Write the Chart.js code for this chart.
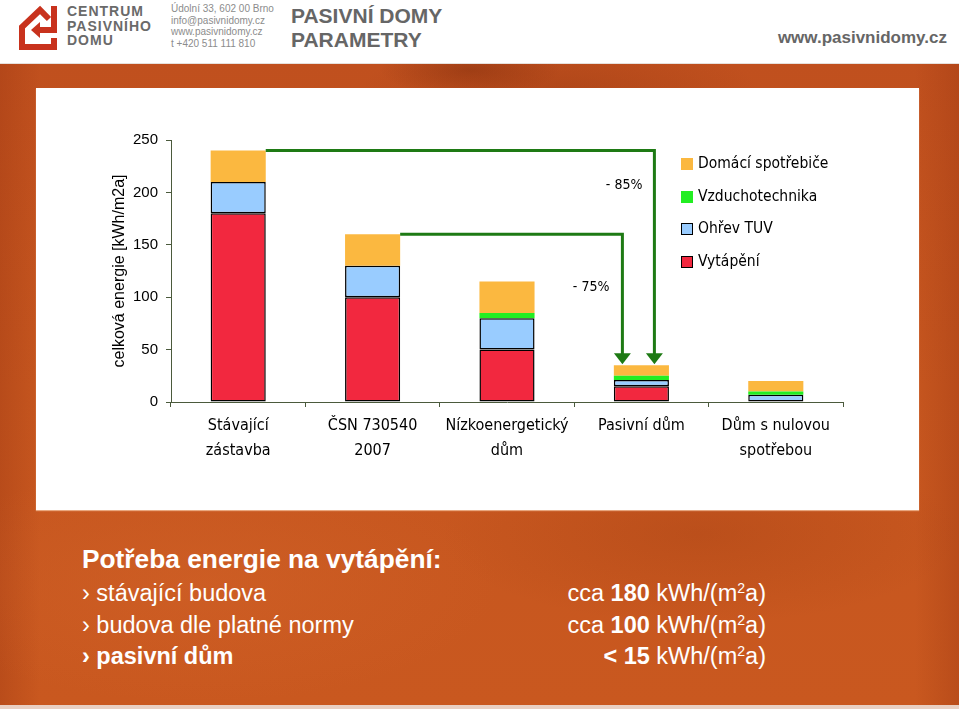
<!DOCTYPE html>
<html><head><meta charset="utf-8">
<script src="https://cdn.jsdelivr.net/npm/chart.js@4.4.1/dist/chart.umd.min.js"></script>
<style>
html,body{margin:0;padding:0;}
body{width:959px;height:709px;position:relative;overflow:hidden;background:#fff;font-family:"Liberation Sans",Arial,sans-serif;}
#header{position:absolute;left:0;top:0;width:959px;height:63px;background:#fff;border-bottom:1px solid #e6e0dc;}
#bg{position:absolute;left:0;top:64px;width:959px;height:645px;
 background:
  radial-gradient(ellipse 90px 26px at 470px 6px, rgba(120,40,10,0.4), rgba(120,40,10,0) 100%),
  radial-gradient(ellipse 200px 50px at 560px 26px, rgba(140,50,15,0.3), rgba(140,50,15,0) 100%),
  radial-gradient(ellipse 260px 90px at 700px 470px, rgba(150,55,15,0.25), rgba(150,55,15,0) 100%),
  radial-gradient(ellipse 300px 120px at 200px 520px, rgba(220,110,50,0.25), rgba(220,110,50,0) 100%),
  linear-gradient(90deg, rgba(150,50,15,0.3) 0px, rgba(150,50,15,0) 40px, rgba(150,50,15,0) 915px, rgba(150,50,15,0.3) 959px),
  linear-gradient(180deg, #C0501E 0%, #C6561F 50%, #C9581F 100%);}
#strip{position:absolute;left:0;top:705px;width:959px;height:4px;background:#e9cfc2;}
#panel{position:absolute;left:36px;top:88px;width:883px;height:422px;background:#fff;box-shadow:0 1px 1px rgba(255,220,190,0.6);}
#chart{position:absolute;left:0;top:0;}
.logo{position:absolute;left:16px;top:3px;}
.brand{position:absolute;left:67px;top:4px;font-weight:bold;font-size:14px;line-height:14.5px;color:#6a6a6a;letter-spacing:1px;}
.addr{position:absolute;left:171px;top:3px;font-size:10px;line-height:11.7px;color:#8c8c8c;}
.title{position:absolute;left:291px;top:4px;font-weight:bold;font-size:21px;line-height:24px;color:#666;}
.web{position:absolute;right:12px;top:28px;font-weight:bold;font-size:17px;color:#666;}
.txt{position:absolute;color:#fff;white-space:nowrap;}
.h{left:82px;top:544px;font-weight:bold;font-size:26.3px;}
.l{left:82px;font-size:23.5px;}
.r{right:193px;font-size:23.5px;text-align:right;}
sup{font-size:60%;vertical-align:0;position:relative;top:-0.55em;}
</style>
</head><body>
<div id="header">
 <svg class="logo" width="48" height="50" viewBox="0 0 48 50">
  <path d="M38 44 H6 V24 L24 7 L33 16" fill="none" stroke="#C8321D" stroke-width="6" stroke-linejoin="miter"/>
  <rect x="35" y="3" width="6" height="27" fill="#C8321D"/>
  <rect x="22" y="24" width="19" height="6" fill="#C8321D"/>
  <polygon points="15,27 24,19 24,35" fill="#C8321D"/>
  <rect x="35" y="35" width="6" height="12" fill="#C8321D"/>
 </svg>
 <div class="brand">CENTRUM<br>PASIVNÍHO<br>DOMU</div>
 <div class="addr">Údolní 33, 602 00 Brno<br>info@pasivnidomy.cz<br>www.pasivnidomy.cz<br>t +420 511 111 810</div>
 <div class="title">PASIVNÍ DOMY<br>PARAMETRY</div>
 <div class="web">www.pasivnidomy.cz</div>
</div>
<div id="bg"></div>
<div id="strip"></div>
<div id="panel"><canvas id="chart" width="883" height="422"></canvas></div>

<div class="txt h">Potřeba energie na vytápění:</div>
<div class="txt l" style="top:580px">› stávající budova</div>
<div class="txt l" style="top:612px">› budova dle platné normy</div>
<div class="txt l" style="top:643px;font-weight:bold">› pasivní dům</div>
<div class="txt r" style="top:580px">cca <b>180</b> kWh/(m<sup>2</sup>a)</div>
<div class="txt r" style="top:612px">cca <b>100</b> kWh/(m<sup>2</sup>a)</div>
<div class="txt r" style="top:643px"><b>&lt; 15</b> kWh/(m<sup>2</sup>a)</div>

<script>
// ---- data ----
const categories = [['Stávající','zástavba'], ['ČSN 730540','2007'], ['Nízkoenergetický','dům'], ['Pasivní dům'], ['Dům s nulovou','spotřebou']];
const seriesNames = ['Vytápění', 'Ohřev TUV', 'Vzduchotechnika', 'Domácí spotřebiče'];
const vytapeni      = [180, 100, 50, 15, null];
const ohrevTUV      = [30, 30, 30, 6, 7];
const vzduchotech   = [0, 0, 5, 4, 3];
const spotrebice    = [30, 30, 30, 10, 10];
const yTicks = [0, 50, 100, 150, 200, 250];
const arrowFrom  = [0, 1];
const arrowTo    = [3, 3];
const arrowLabels = ['- 85%', '- 75%'];

const totals = categories.map((c, i) => (vytapeni[i] || 0) + ohrevTUV[i] + vzduchotech[i] + spotrebice[i]);

const colors = ['#F2283F', '#99CCFF', '#22EE22', '#FBB840'];
const borders = [1.5, 1.5, 0, 0];
const seriesData = [vytapeni, ohrevTUV, vzduchotech, spotrebice];

const COND = '"DejaVu Sans Condensed", "DejaVu Sans", sans-serif';
const LABEL_FONT = '14px ' + COND;
const LEGEND_FONT = '15.5px ' + COND;
const AXIS_COLOR = '#4b5a3c';
const ARROW_COLOR = '#1E7A14';

const arrowPlugin = {
  id: 'arrows',
  afterDatasetsDraw(chart) {
    const ctx = chart.ctx, xs = chart.scales.x, ys = chart.scales.y;
    const topMeta = chart.getDatasetMeta(3);
    const shifts = [13, -19];      // horizontal shift of the drop line relative to target bar centre
    const labelDy = [35, 53];
    const labelDx = [12, 13];
    ctx.save();
    arrowFrom.forEach((fi, i) => {
      const bar = topMeta.data[fi];
      const startX = bar.x + bar.width / 2;
      const levelY = ys.getPixelForValue(totals[fi]);
      const tgtX = xs.getPixelForValue(arrowTo[i]) + shifts[i];
      const tipY = ys.getPixelForValue(totals[arrowTo[i]]) - 1;
      const headH = 11, headW = 17;
      ctx.strokeStyle = ARROW_COLOR;
      ctx.lineWidth = 3;
      ctx.lineJoin = 'miter';
      ctx.beginPath();
      ctx.moveTo(startX, levelY);
      ctx.lineTo(tgtX, levelY);
      ctx.lineTo(tgtX, tipY - headH + 1);
      ctx.stroke();
      ctx.fillStyle = ARROW_COLOR;
      ctx.beginPath();
      ctx.moveTo(tgtX - headW / 2, tipY - headH);
      ctx.lineTo(tgtX + headW / 2, tipY - headH);
      ctx.lineTo(tgtX, tipY);
      ctx.closePath();
      ctx.fill();
      ctx.fillStyle = '#000';
      ctx.font = LABEL_FONT;
      ctx.textAlign = 'right';
      ctx.textBaseline = 'middle';
      ctx.fillText(arrowLabels[i], tgtX - labelDx[i], levelY + labelDy[i]);
    });
    ctx.restore();
  }
};

const legendPlugin = {
  id: 'customLegend',
  afterDraw(chart) {
    const ctx = chart.ctx, ca = chart.chartArea;
    const bx = Math.round(ca.right - 162), by = Math.round(ca.top + 18), step = 32.5, size = 12;
    ctx.save();
    ctx.font = LEGEND_FONT;
    ctx.textAlign = 'left';
    ctx.textBaseline = 'middle';
    for (let k = 0; k < 4; k++) {
      const di = 3 - k;
      const y = Math.round(by + k * step);
      ctx.fillStyle = colors[di];
      ctx.fillRect(bx, y, size, size);
      if (borders[di]) {
        ctx.strokeStyle = '#000';
        ctx.lineWidth = 1;
        ctx.strokeRect(bx + 0.5, y + 0.5, size - 1, size - 1);
      }
      ctx.fillStyle = '#000';
      ctx.fillText(seriesNames[di], bx + 17, y + size / 2);
    }
    ctx.restore();
  }
};

new Chart(document.getElementById('chart'), {
  type: 'bar',
  data: {
    labels: categories,
    datasets: seriesData.map((d, i) => ({
      label: seriesNames[i],
      data: d,
      backgroundColor: colors[i],
      borderColor: '#000',
      borderWidth: borders[i],
      borderSkipped: false,
      barPercentage: 0.41,
      categoryPercentage: 1
    }))
  },
  options: {
    responsive: false,
    animation: false,
    devicePixelRatio: 1,
    layout: { padding: { top: 52, right: 76, left: 0, bottom: 0 } },
    plugins: { legend: { display: false }, tooltip: { enabled: false } },
    scales: {
      x: {
        stacked: true,
        offset: true,
        grid: { display: true, drawOnChartArea: false, drawTicks: true, tickLength: 5, offset: true, color: AXIS_COLOR },
        border: { color: AXIS_COLOR, width: 1 },
        ticks: { color: '#000', font: { family: COND, size: 16, lineHeight: 1.56 }, padding: 6, maxRotation: 0, autoSkip: false },
        afterFit(s) { s.height = 108; }
      },
      y: {
        stacked: true,
        min: 0, max: 250,
        afterBuildTicks(s) { s.ticks = yTicks.map(v => ({ value: v })); },
        grid: { display: true, drawOnChartArea: false, drawTicks: true, tickLength: 5, color: AXIS_COLOR },
        border: { color: AXIS_COLOR, width: 1 },
        ticks: { color: '#000', font: { family: '"Liberation Sans", Arial, sans-serif', size: 15 }, padding: 8 },
        title: { display: true, text: 'celková energie [kWh/m2a]', color: '#000', font: { family: '"Liberation Sans", Arial, sans-serif', size: 16 }, padding: { top: 74, bottom: 0 } },
        afterFit(s) { s.width = 135; }
      }
    }
  },
  plugins: [arrowPlugin, legendPlugin]
});
</script>
</body></html>
